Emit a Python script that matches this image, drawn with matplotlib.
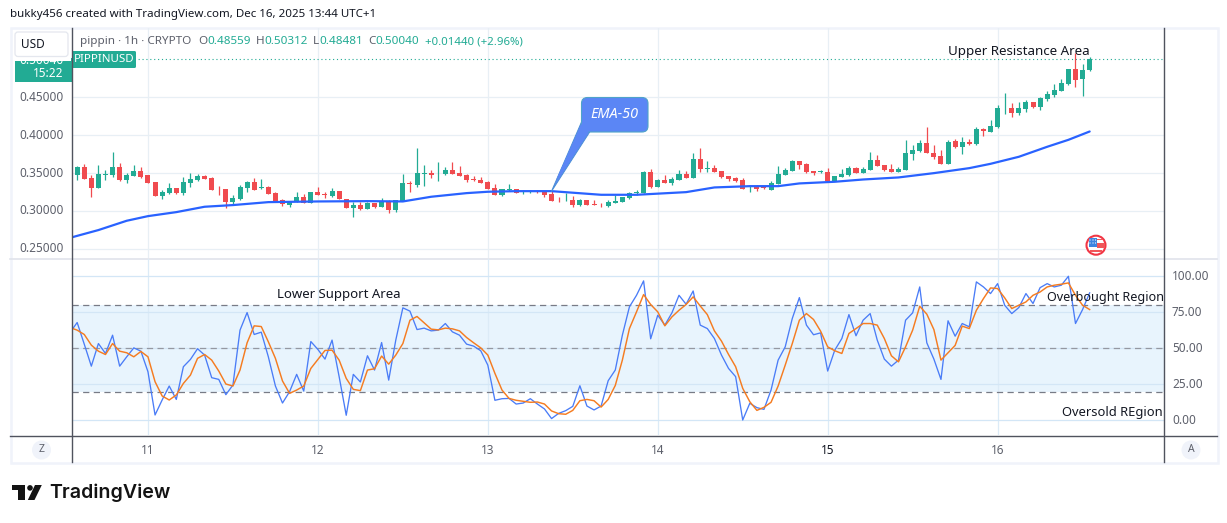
import matplotlib
matplotlib.use("Agg")
import matplotlib.pyplot as plt
from matplotlib.patches import Rectangle, FancyBboxPatch, Polygon, Circle

W, H = 1227, 523
opens = [.3522,.3474,.3579,.3434,.3306,.3474,.3474,.3579,.3408,.3465,
 .3526,.3474,.3381,.3201,.3236,.3302,.3236,.3368,.3408,.3456,
 .3434,.3289,.3289,.3117,.3157,.3306,.3381,.3302,.3315,.3236,
 .3144,.3082,.3122,.3183,.3108,.3249,.3227,.3201,.3262,.3152,
 .3042,.3078,.3030,.3100,.3056,.3126,.3016,.3130,.3368,.3337,
 .3491,.3500,.3496,.3491,.3540,.3500,.3474,.3421,.3408,.3381,
 .3298,.3210,.3276,.3284,.3249,.3249,.3258,.3245,.3223,.3144,
 .3139,.3144,.3078,.3139,.3091,.3078,.3064,.3108,.3122,.3174,
 .3240,.3232,.3509,.3315,.3408,.3368,.3408,.3487,.3434,.3685,
 .3557,.3566,.3526,.3460,.3434,.3408,.3320,.3324,.3311,.3276,
 .3355,.3474,.3526,.3658,.3619,.3526,.3513,.3513,.3390,.3452,
 .3478,.3570,.3504,.3544,.3676,.3610,.3553,.3518,.3544,.3755,
 .3795,.3900,.3768,.3729,.3623,.3927,.3848,.3914,.3887,.4085,
 .4046,.4112,.4354,.4362,.4296,.4349,.4442,.4376,.4481,.4534,
 .4587,.4679,.4877,.4745,.48559]
highs = [.3522,.3592,.3619,.3469,.3606,.3535,.3777,.3628,.3504,.3606,
 .3575,.3474,.3381,.3271,.3368,.3302,.3443,.3500,.3482,.3474,
 .3443,.3328,.3289,.3210,.3337,.3394,.3434,.3421,.3333,.3249,
 .3157,.3126,.3254,.3218,.3249,.3315,.3254,.3302,.3262,.3152,
 .3122,.3122,.3117,.3108,.3170,.3144,.3144,.3487,.3394,.3826,
 .3606,.3540,.3641,.3575,.3641,.3592,.3482,.3460,.3443,.3390,
 .3355,.3293,.3350,.3284,.3276,.3276,.3271,.3258,.3258,.3179,
 .3240,.3192,.3157,.3139,.3144,.3108,.3139,.3205,.3183,.3245,
 .3280,.3526,.3548,.3421,.3474,.3443,.3540,.3526,.3764,.3830,
 .3654,.3614,.3526,.3460,.3443,.3434,.3342,.3342,.3328,.3394,
 .3592,.3566,.3680,.3658,.3632,.3526,.3544,.3570,.3465,.3557,
 .3597,.3584,.3584,.3782,.3742,.3610,.3623,.3584,.3940,.3874,
 .3940,.4112,.3874,.3808,.3940,.3949,.3980,.3953,.4112,.4098,
 .4204,.4402,.4560,.4428,.4442,.4468,.4442,.4508,.4587,.4679,
 .4745,.4877,.5084,.4943,.50312]
lows = [.3474,.3408,.3425,.3183,.3306,.3408,.3443,.3399,.3368,.3465,
 .3434,.3372,.3201,.3161,.3218,.3218,.3214,.3320,.3394,.3425,
 .3276,.3210,.3038,.3095,.3148,.3254,.3271,.3289,.3223,.3126,
 .3069,.3056,.3113,.3108,.3108,.3205,.3166,.3188,.3152,.3042,
 .2919,.3016,.3030,.3038,.3056,.2976,.2990,.3126,.3254,.3320,
 .3328,.3434,.3394,.3469,.3491,.3460,.3386,.3394,.3368,.3289,
 .3210,.3201,.3262,.3240,.3223,.3236,.3232,.3183,.3135,.3122,
 .3135,.3056,.3069,.3082,.3082,.3056,.3056,.3108,.3122,.3161,
 .3205,.3232,.3306,.3315,.3372,.3342,.3408,.3434,.3434,.3513,
 .3513,.3513,.3434,.3394,.3386,.3289,.3254,.3267,.3284,.3276,
 .3355,.3474,.3526,.3553,.3496,.3474,.3496,.3390,.3390,.3443,
 .3456,.3496,.3504,.3544,.3597,.3522,.3518,.3518,.3544,.3676,
 .3782,.3760,.3689,.3623,.3623,.3834,.3755,.3874,.3870,.3993,
 .4046,.4098,.4283,.4244,.4270,.4310,.4362,.4336,.4455,.4508,
 .4587,.4666,.4640,.4521,.48481]
closes = [.3474,.3579,.3425,.3306,.3487,.3482,.3579,.3408,.3474,.3522,
 .3447,.3372,.3201,.3254,.3302,.3236,.3381,.3416,.3456,.3425,
 .3276,.3284,.3113,.3170,.3315,.3381,.3280,.3315,.3227,.3130,
 .3086,.3126,.3183,.3108,.3249,.3214,.3214,.3262,.3152,.3042,
 .3078,.3025,.3108,.3051,.3126,.3016,.3139,.3368,.3350,.3496,
 .3500,.3469,.3500,.3540,.3491,.3460,.3408,.3412,.3368,.3289,
 .3210,.3284,.3284,.3240,.3254,.3254,.3249,.3210,.3135,.3139,
 .3144,.3078,.3139,.3082,.3082,.3073,.3117,.3126,.3183,.3232,
 .3245,.3513,.3315,.3408,.3372,.3421,.3487,.3434,.3685,.3553,
 .3566,.3513,.3447,.3416,.3394,.3289,.3328,.3293,.3298,.3364,
 .3487,.3540,.3658,.3610,.3513,.3496,.3522,.3390,.3465,.3491,
 .3570,.3504,.3553,.3676,.3597,.3544,.3518,.3553,.3768,.3808,
 .3900,.3768,.3716,.3623,.3914,.3848,.3914,.3887,.4085,.4050,
 .4125,.4362,.4362,.4296,.4362,.4442,.4376,.4494,.4547,.4600,
 .4692,.4877,.4732,.4864,.50040]
ema_bar = [0,4,8,11,15,19,23,28,35,42,47,51,56,59,63,68,75,80,87,91,96,100,103,108,112,117,122,127,130,134,138,141,144]
ema_val = [.2646,.2748,.2871,.2932,.2985,.3056,.3078,.3117,.3126,.3130,.3126,.3188,.3236,.3254,.3262,.3262,.3214,.3214,.3249,.3311,.3328,.3328,.3364,.3386,.3416,.3443,.3500,.3566,.3623,.3716,.3848,.3940,.4050]
rsi_k = [61.0,67.9,52.9,37.6,53.3,46.4,59.1,37.6,44.1,50.3,48.0,33.7,3.7,14.1,23.8,14.5,37.2,42.3,49.7,45.3,
 29.6,28.4,17.8,24.5,62.6,74.8,59.6,61.2,44.1,23.8,12.0,19.9,31.9,20.3,54.7,49.2,42.5,55.7,30.3,3.5,
 31.9,26.6,44.8,34.9,54.0,27.9,55.7,78.1,75.8,63.0,64.0,62.1,62.6,67.2,61.4,59.1,52.9,51.5,48.3,38.3,
 13.9,15.0,15.2,11.3,12.0,15.0,11.3,7.9,1.2,4.8,6.7,9.7,24.0,9.9,7.2,9.9,27.5,34.9,59.1,78.8,
 86.8,96.8,56.6,73.0,66.1,74.6,86.8,80.6,89.8,66.1,63.7,56.8,45.3,36.0,30.3,0.2,11.8,8.8,7.6,21.0,
 41.8,51.0,70.7,85.2,66.1,59.4,60.7,34.2,48.7,56.8,73.4,58.7,69.5,74.1,55.7,42.5,37.6,41.8,69.5,74.6,
 92.6,53.8,42.5,28.4,69.1,58.4,67.2,64.9,96.1,92.6,88.0,94.9,79.9,74.1,78.3,88.0,81.1,92.1,94.9,92.6,
 93.8,100.0,67.2,76.9,88.5]
rsi_d = [64.4,62.6,59.6,52.2,48.0,45.7,53.3,48.0,46.9,44.1,47.8,44.1,26.8,16.9,14.1,17.6,25.6,31.4,43.0,45.7,
 41.8,34.2,25.2,23.8,34.9,53.8,65.6,65.1,54.5,43.0,27.3,18.7,21.0,23.8,36.0,42.3,48.5,48.7,41.8,29.1,
 21.5,20.6,34.9,35.8,44.6,39.0,45.3,53.3,69.5,72.1,67.7,63.3,62.8,64.0,63.5,62.1,57.5,53.8,50.3,45.3,
 32.6,21.0,15.2,13.9,13.2,12.5,12.7,11.3,6.5,4.6,4.2,6.9,13.6,14.5,13.6,9.2,14.5,24.2,41.8,63.7,
 75.3,87.3,80.4,75.3,65.6,71.8,76.4,80.4,85.7,79.4,73.4,62.1,55.0,45.7,37.2,22.2,12.9,6.9,9.0,12.5,
 23.8,38.3,53.3,69.5,74.1,70.0,61.9,51.0,48.3,46.4,60.3,63.7,67.2,67.2,66.1,56.8,44.8,40.6,51.0,62.6,
 79.2,73.7,63.0,41.8,46.9,52.0,65.4,63.7,76.4,84.5,91.9,91.5,85.0,77.6,79.9,82.2,86.8,89.1,92.6,93.8,
 94.5,95.4,86.8,79.9,76.9]
price_ticks = [.25,.30,.35,.40,.45]
rsi_ticks = [0,25,50,75,100]
day_labels = ["11","12","13","14","15","16"]
day_bars = [11,35,59,83,107,131]

GREEN="#22ab94"; RED="#f04b4f"; BLUE="#2962ff"; KBLUE="#4a7cf7"; ORANGE="#f57c21"
GRAY="#5d606b"; AXIS="#50535e"; BAND="#e8f4fd"
FONT="Noto Sans"
plt.rcParams['font.family']=[FONT,'DejaVu Sans']

fig=plt.figure(figsize=(W/100,H/100),dpi=100,facecolor="white")
def axpx(x0,y0,x1,y1,z):
    return fig.add_axes([x0/W,1-y1/H,(x1-x0)/W,(y1-y0)/H],zorder=z)
bg=axpx(0,0,W,H,0); bg.set_xlim(0,W); bg.set_ylim(H,0); bg.axis("off")
top=axpx(0,0,W,H,5); top.set_xlim(0,W); top.set_ylim(H,0); top.axis("off"); top.patch.set_alpha(0)

# frame
bg.add_patch(Rectangle((10.5,27.5),1207,435,fc="white",ec="#f0f3fa",lw=1.8))
bg.plot([10,1217],[258.5,258.5],color="#e0e3eb",lw=1.2)

# price pane
ax=axpx(72,28,1164,258,2); ax.patch.set_alpha(0)
ax.set_xlim(0.27,154.5); ax.set_ylim(.2379,.5417)
for s in ax.spines.values(): s.set_visible(False)
ax.set_xticks([]); ax.set_yticks([])
for d in day_bars: ax.axvline(d,color="#e8eff5",lw=0.9,zorder=0)
for t in price_ticks: ax.axhline(t,color="#e8eff5",lw=0.9,zorder=0)
ax.axhline(closes[-1],color=GREEN,lw=0.8,ls=(0,(1,2.5)),zorder=1)
bars=list(range(len(opens)))
cols=[GREEN if c>=o else RED for o,c in zip(opens,closes)]
ax.vlines(bars,lows,highs,colors=cols,lw=0.9,zorder=3)
ax.bar(bars,[max(abs(c-o),.0006) for o,c in zip(opens,closes)],bottom=[min(o,c) for o,c in zip(opens,closes)],
       width=0.71,color=cols,lw=0,zorder=3)
ax.plot(ema_bar,ema_val,color=BLUE,lw=1.6,zorder=4,solid_capstyle="round")

# rsi pane
rx=axpx(72,259,1164,435,2); rx.patch.set_alpha(0)
rx.set_xlim(0.27,154.5); rx.set_ylim(-10.2,112)
for s in rx.spines.values(): s.set_visible(False)
rx.set_xticks([]); rx.set_yticks([])
rx.axhspan(20,80,color=BAND,lw=0,zorder=0)
for d in day_bars: rx.axvline(d,color="#dcebf7",lw=0.9,zorder=1)
for t in rsi_ticks: rx.axhline(t,color="#d3e6f6",lw=0.9,zorder=1)
rx.axhline(80,color="#787b86",lw=0.9,ls=(0,(5,3.5)),zorder=2)
rx.axhline(20,color="#787b86",lw=0.9,ls=(0,(5,3.5)),zorder=2)
rx.axhline(50,color="#9598a1",lw=0.9,ls=(0,(5,3.5)),zorder=2)
rx.plot(bars,rsi_k,color=KBLUE,lw=0.95,zorder=3)
rx.plot(bars,rsi_d,color=ORANGE,lw=1.05,zorder=4)

# axes lines
top.plot([71.5,71.5],[28,462],color=AXIS,lw=1.0)
top.plot([1163.5,1163.5],[28,462],color=AXIS,lw=1.0)
top.plot([10,1217],[435.5,435.5],color=AXIS,lw=1.0)

# tick labels
fs=8.5
for t in price_ticks:
    y=211-(t-.30)*757
    top.text(63.5,y,f"{t:.5f}",ha="right",va="center",color=GRAY,fontsize=fs)
for t in rsi_ticks:
    top.text(1172,420.3-t*1.44,f"{t:.2f}",ha="left",va="center",color=GRAY,fontsize=fs)
for d,l in zip(day_bars,day_labels):
    top.text(70.1+7.08*d,450,l,ha="center",va="center",color="#131722" if l=="15" else GRAY,
             fontsize=fs,fontweight="bold" if l=="15" else "normal")

# header
top.text(10,14.5,"bukky456 created with TradingView.com, Dec 16, 2025 13:44 UTC+1",ha="left",va="center",
         color="#131722",fontsize=8.3)
top.text(80,41.5,"pippin · 1h · CRYPTO",ha="left",va="center",color=GRAY,fontsize=8.4)
for x,lab,val in [(198.5,"O","0.48559"),(255.5,"H","0.50312"),(313,"L","0.48481"),(368.5,"C","0.50040")]:
    t=top.text(x,41.5,lab,ha="left",va="center",color=GRAY,fontsize=8.4)
    top.annotate(val,xy=(1,0.5),xycoords=t,va="center",ha="left",color=GREEN,fontsize=8.4)
top.text(425,41.5,"+0.01440 (+2.96%)",ha="left",va="center",color=GREEN,fontsize=8.2)

# USD box and tags
tag=Rectangle((15,58),56.5,23.5,fc=GREEN,ec="none"); top.add_patch(tag)
clip=Rectangle((15,61),57,21,transform=top.transData)
tx=top.text(63.5,60,"0.50040",ha="right",va="center",color="white",fontsize=8.5,clip_on=True)
tx.set_clip_path(clip)
top.add_patch(Rectangle((15,30),56,30.5,fc="white",ec="none"))
top.text(63.5,73.5,"15:22",ha="right",va="center",color="white",fontsize=8.5)
top.add_patch(FancyBboxPatch((15,32),53,24.5,boxstyle="round,pad=0,rounding_size=3",fc="white",ec="#e4e7ee",lw=0.9))
top.text(33,44.5,"USD",ha="center",va="center",color="#131722",fontsize=8.5)
top.add_patch(FancyBboxPatch((72,51),64,17,boxstyle="round,pad=0,rounding_size=1.5",fc=GREEN,ec="none"))
top.text(104,59.5,"PIPPINUSD",ha="center",va="center",color="white",fontsize=8.3,fontweight="medium")

# callout
top.add_patch(Polygon([(551.3,191.7),(581.5,122),(590,131.5)],closed=True,fc="#5b86f5",ec="#4a8ed6",lw=0.7,zorder=3))
top.add_patch(FancyBboxPatch((581.5,97.5),66.5,34.5,boxstyle="round,pad=0,rounding_size=6",fc="#5b86f5",ec="#4fa3c9",lw=0.8,zorder=3))
top.add_patch(Polygon([(556,180),(582.5,122),(589,131)],closed=True,fc="#5b86f5",ec="none",zorder=4))
top.text(614.5,114,"EMA-50",ha="center",va="center",color="white",fontsize=10.4,fontstyle="italic",fontweight="bold",zorder=5)

# annotations
top.text(1090,51.5,"Upper Resistance Area",ha="right",va="center",color="#131722",fontsize=9.6)
top.text(277,294.5,"Lower Support Area",ha="left",va="center",color="#131722",fontsize=9.5)
top.text(1164,297,"Overbought Region",ha="right",va="center",color="#131722",fontsize=9.05)
top.text(1162.5,412.5,"Oversold REgion",ha="right",va="center",color="#131722",fontsize=9.3)

# flag
top.add_patch(Circle((1096,245.2),9.5,fc="white",ec="#f23645",lw=1.5))
top.add_patch(Rectangle((1088.5,238),8.5,9,fc="#3d84e0",ec="none"))
for x0 in (1090,1093,1095.5):
    for y0 in (240,243):
        top.add_patch(Circle((x0,y0),0.6,fc="white",ec="none"))
top.add_patch(Rectangle((1097,238.5),6,1.6,fc="#f0565a",ec="none"))
top.add_patch(Rectangle((1097,243),7.5,4.5,fc="#f0565a",ec="none"))
top.add_patch(Rectangle((1090,250),12,2,fc="#f0565a",ec="none"))

# Z and A buttons
for x,l in [(41.5,"Z"),(1191,"A")]:
    top.add_patch(Circle((x,450),9.5,fc="#f0f3fa",ec="none"))
    top.text(x,450,l,ha="center",va="center",color=GRAY,fontsize=7.5)

# logo
K="#131313"
top.add_patch(Polygon([(12,485),(24.5,485),(24.5,500),(18,500),(18,490),(12,490)],fc=K,ec="none"))
top.add_patch(Circle((30,487.9),2.8,fc=K,ec="none"))
top.add_patch(Polygon([(35,485),(41.8,485),(34.5,500),(27.8,500)],fc=K,ec="none"))
top.text(49,493,"TradingView",ha="left",va="center",color=K,fontsize=14.1,fontweight="semibold",family="Inter")

fig.savefig("out.png",dpi=100,facecolor="white")
